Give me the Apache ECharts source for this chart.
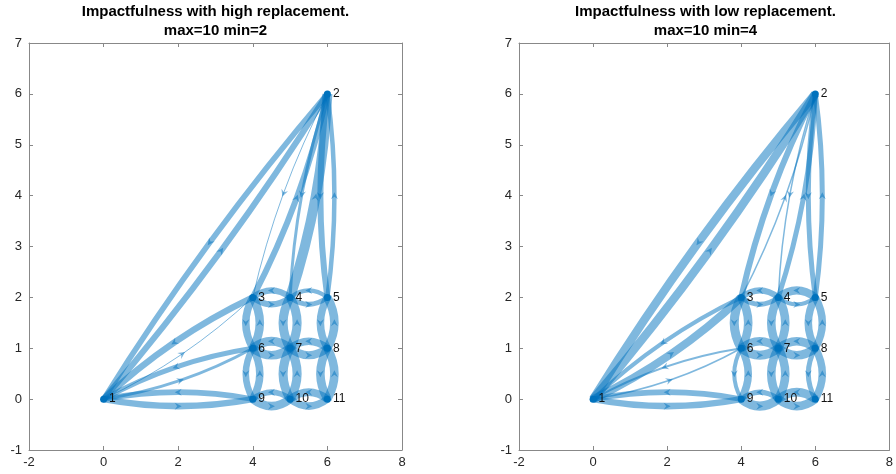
<!DOCTYPE html>
<html><head><meta charset="utf-8">
<script src="https://cdn.jsdelivr.net/npm/echarts@6/dist/echarts.min.js"></script>
<style>html,body{margin:0;padding:0;background:#fff}#c{width:896px;height:474px}</style>
</head><body><div id="c"></div>
<script>
// ---- data ----
const nodeNames = ['1','2','3','4','5','6','7','8','9','10','11'];
const nodeX = [0,6,4,5,6,4,5,6,4,5,6];
const nodeY = [0,6,2,2,2,1,1,1,0,0,0];
const edgeSource = [1,2, 1,3, 1,6, 1,9, 2,3, 2,4, 2,5, 3,4, 4,5, 6,7, 7,8, 9,10, 10,11, 3,6, 6,9, 4,7, 7,10, 5,8, 8,11];
const edgeTarget = [2,1, 3,1, 6,1, 9,1, 3,2, 4,2, 5,2, 4,3, 5,4, 7,6, 8,7, 10,9, 11,10, 6,3, 9,6, 7,4, 10,7, 8,5, 11,8];
const widthHigh = [6,5.5, 1,6.5, 3,5, 6.5,5.5, 1,6, 3,10, 6,4.5, 6,6, 5,4, 8.5,9, 8,7.5, 8.5,5.5, 7.5,7.5, 7.5,8.5, 6.5,7.5, 9,9, 9,9, 7.5,8.5, 8.5,8.5];
const widthLow  = [8.5,8.5, 8,4, 1.5,2, 6.5,5.5, 6,1.5, 1.5,5, 5,5, 5,6, 4,8, 9,8.5, 8.5,8.5, 9,5, 8.5,8.5, 9,8.5, 4,7.5, 8.5,8.5, 8.5,8.5, 7.5,7.5, 5,7.5];
const titleHigh = ['Impactfulness with high replacement.', 'max=10 min=2'];
const titleLow  = ['Impactfulness with low replacement.', 'max=10 min=4'];
const xTicks = {min:-2, max:8, interval:2};
const yTicks = {min:-1, max:7, interval:1};

// ---- chart ----
const EDGE = '#0072BD';
const BULGE = 7;
const FONT = 'Arial, "Liberation Sans", Helvetica, sans-serif';

function edgeData(widths) {
  return edgeSource.map((s, i) => {
    const t = edgeTarget[i];
    return [nodeX[s-1], nodeY[s-1], nodeX[t-1], nodeY[t-1], widths[i]];
  });
}
function nodeData() {
  return nodeNames.map((n, i) => ({name: n, value: [nodeX[i], nodeY[i]]}));
}
function renderEdge(params, api) {
  const p0 = api.coord([api.value(0), api.value(1)]);
  const p2 = api.coord([api.value(2), api.value(3)]);
  const w = api.value(4);
  const dx = p2[0]-p0[0], dy = p2[1]-p0[1];
  const L = Math.hypot(dx, dy);
  const ux = dx/L, uy = dy/L;
  const rx = -uy, ry = ux;
  const hx = (p0[0]+p2[0])/2, hy = (p0[1]+p2[1])/2;
  const cx = hx + rx*BULGE*2, cy = hy + ry*BULGE*2;
  const mx = hx + rx*BULGE, my = hy + ry*BULGE;
  const a = 3.5;
  const pts = [
    [mx + ux*a, my + uy*a],
    [mx - ux*a + rx*a, my - uy*a + ry*a],
    [mx - ux*a*0.3, my - uy*a*0.3],
    [mx - ux*a - rx*a, my - uy*a - ry*a]
  ];
  return {
    type: 'group',
    children: [
      {type: 'bezierCurve', shape: {x1: p0[0], y1: p0[1], x2: p2[0], y2: p2[1], cpx1: cx, cpy1: cy},
       style: {stroke: EDGE, lineWidth: w, fill: null, opacity: 0.5, lineCap: 'butt'}},
      {type: 'polygon', shape: {points: pts}, style: {fill: EDGE, opacity: 0.5}}
    ]
  };
}

const grids = [
  {left: 29, right: 494, top: 43, bottom: 24},
  {left: 519, right: 4, top: 43, bottom: 24}
];
const axisLineStyle = {color: '#888', width: 1};
const xAxes = [], yAxes = [];
function axisBase(i, pos, t, labels) {
  return {type: 'value', gridIndex: i, position: pos, min: t.min, max: t.max, interval: t.interval,
    axisLine: {show: true, onZero: false, lineStyle: axisLineStyle},
    axisTick: {show: true, inside: true, length: 4, lineStyle: axisLineStyle},
    axisLabel: labels ? {color: '#262626', fontSize: 13, fontFamily: FONT, margin: pos === 'bottom' ? 6 : 7,
      showMinLabel: true, showMaxLabel: true} : {show: false},
    splitLine: {show: false}};
}
grids.forEach((g, i) => {
  xAxes.push(axisBase(i, 'bottom', xTicks, true));
  xAxes.push(axisBase(i, 'top', xTicks, false));
  yAxes.push(axisBase(i, 'left', yTicks, true));
  yAxes.push(axisBase(i, 'right', yTicks, false));
});

function makeSeries(i, widths) {
  return [
    {type: 'custom', xAxisIndex: 2*i, yAxisIndex: 2*i, renderItem: renderEdge, data: edgeData(widths),
     encode: {x: [0, 2], y: [1, 3]}, silent: true, clip: false},
    {type: 'scatter', xAxisIndex: 2*i, yAxisIndex: 2*i, data: nodeData(), symbolSize: 7,
     itemStyle: {color: EDGE, opacity: 1}, silent: true,
     label: {show: true, position: 'right', distance: 2, formatter: '{b}', color: '#111', fontSize: 12, fontFamily: FONT}}
  ];
}

const chart = echarts.init(document.getElementById('c'), null, {renderer: 'canvas'});
chart.setOption({
  animation: false,
  backgroundColor: '#fff',
  grid: grids,
  xAxis: xAxes,
  yAxis: yAxes,
  graphic: [
    {type: 'text', x: 215.5, y: 2, style: {text: titleHigh.join('\n'), textAlign: 'center', textVerticalAlign: 'top',
      font: 'bold 15px ' + FONT, lineHeight: 19, fill: '#000'}},
    {type: 'text', x: 705.5, y: 2, style: {text: titleLow.join('\n'), textAlign: 'center', textVerticalAlign: 'top',
      font: 'bold 15px ' + FONT, lineHeight: 19, fill: '#000'}}
  ],
  series: makeSeries(0, widthHigh).concat(makeSeries(1, widthLow))
});
</script></body></html>
